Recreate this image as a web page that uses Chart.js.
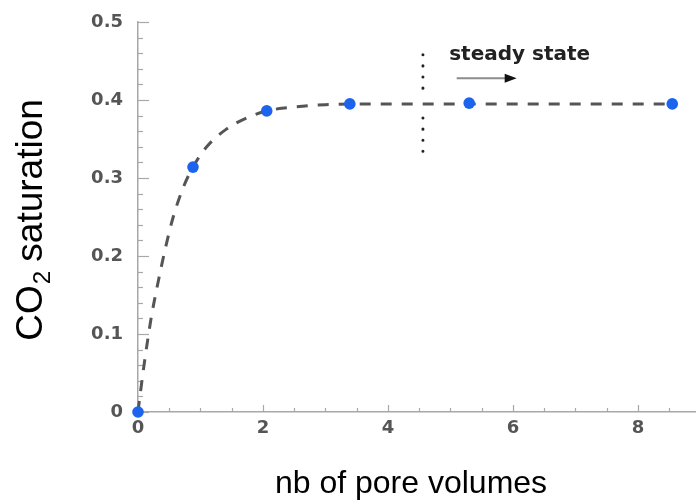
<!DOCTYPE html>
<html>
<head>
<meta charset="utf-8">
<script src="https://cdn.jsdelivr.net/npm/chart.js@4/dist/chart.umd.min.js"></script>
<style>
  html, body { margin: 0; padding: 0; background: #fff; }
  canvas { display: block; }
</style>
</head>
<body>
<canvas id="satChart" width="696" height="501"></canvas>
<script>
// measured CO2 saturation vs injected pore volumes
const poreVolumes = [0, 0.88, 2.06, 3.39, 5.3, 8.55];
const saturation = [0, 0.314, 0.386, 0.395, 0.396, 0.395];

// fitted trend (dashed)
const fitX = [0, 0.05, 0.1, 0.16, 0.22, 0.3, 0.43, 0.56, 0.72, 0.88, 1.1, 1.42, 1.74, 2.06, 2.38, 3.0, 4.0, 5.0, 6.0, 7.0, 8.55];
const fitY = [0, 0.032, 0.062, 0.095, 0.125, 0.158, 0.207, 0.249, 0.287, 0.314, 0.340, 0.363, 0.377, 0.386, 0.390, 0.394, 0.395, 0.395, 0.395, 0.395, 0.395];

// steady state marker and arrow
const steadyX = 4.56;
const steadyY = [0.458, 0.413, null, 0.377, 0.333];
const arrowX = [5.1, 6.06];
const arrowY = 0.428;
const steadyLabel = "steady state";
const steadyLabelPos = [4.98, 0.451];

const xTickLabels = ["0", "2", "4", "6", "8"];
const yTickLabels = ["0", "0.1", "0.2", "0.3", "0.4", "0.5"];

const xMinorStep = 0.5;
const yMinorStep = 0.02;

const tickFont = { family: "DejaVu Sans", size: 18, weight: "bold" };
const axisColor = "#a8a8a8";

// inside tick marks, major and minor
const insideTicks = {
  id: "insideTicks",
  beforeDatasetsDraw(chart) {
    const { ctx, scales: { x, y } } = chart;
    ctx.save();
    ctx.strokeStyle = axisColor;
    ctx.lineWidth = 1.2;
    const x0 = x.left, y0 = y.bottom;
    for (let v = 0; v <= y.max + 1e-9; v += yMinorStep) {
      const py = Math.round(y.getPixelForValue(v)) + 0.5;
      const major = Math.abs(v * 10 - Math.round(v * 10)) < 1e-6;
      ctx.beginPath();
      ctx.moveTo(x0, py);
      ctx.lineTo(x0 + (major ? 11 : 5), py);
      ctx.stroke();
    }
    for (let v = 0; v <= x.max + 1e-9; v += xMinorStep) {
      const px = Math.round(x.getPixelForValue(v)) + 0.5;
      const major = Math.abs(v / 2 - Math.round(v / 2)) < 1e-6;
      ctx.beginPath();
      ctx.moveTo(px, y0);
      ctx.lineTo(px, y0 - (major ? 7 : 4));
      ctx.stroke();
    }
    ctx.restore();
  }
};

// axis titles, arrow and the steady state label
const annotations = {
  id: "annotations",
  afterDatasetsDraw(chart) {
    const { ctx, scales: { x, y } } = chart;
    ctx.save();

    // arrow
    const ax0 = x.getPixelForValue(arrowX[0]);
    const ax1 = x.getPixelForValue(arrowX[1]);
    const ay = y.getPixelForValue(arrowY);
    ctx.strokeStyle = "#8c8c8c";
    ctx.lineWidth = 2;
    ctx.beginPath();
    ctx.moveTo(ax0, ay);
    ctx.lineTo(ax1 - 10, ay);
    ctx.stroke();
    ctx.fillStyle = "#111";
    ctx.beginPath();
    ctx.moveTo(ax1, ay);
    ctx.lineTo(ax1 - 12, ay - 4.5);
    ctx.lineTo(ax1 - 12, ay + 4.5);
    ctx.closePath();
    ctx.fill();

    // label
    ctx.font = "bold 20px 'DejaVu Sans'";
    ctx.fillStyle = "#222";
    ctx.textAlign = "left";
    ctx.textBaseline = "alphabetic";
    ctx.fillText(steadyLabel, x.getPixelForValue(steadyLabelPos[0]), y.getPixelForValue(steadyLabelPos[1]));

    // x title
    ctx.font = "32px 'Liberation Sans', Arial";
    ctx.fillStyle = "#000";
    ctx.textAlign = "center";
    ctx.fillText("nb of pore volumes", 411, 493);

    // y title with subscript
    ctx.translate(42, 220);
    ctx.rotate(-Math.PI / 2);
    ctx.textAlign = "left";
    const big = "37px 'Liberation Sans', Arial";
    const small = "24px 'Liberation Sans', Arial";
    ctx.font = big;
    const wCO = ctx.measureText("CO").width;
    const wRest = ctx.measureText(" saturation").width;
    ctx.font = small;
    const wSub = ctx.measureText("2").width;
    let sx = -(wCO + wSub + wRest) / 2;
    ctx.font = big;
    ctx.fillText("CO", sx, 0);
    sx += wCO;
    ctx.font = small;
    ctx.fillText("2", sx + 1, 8);
    sx += wSub;
    ctx.font = big;
    ctx.fillText(" saturation", sx, 0);

    ctx.restore();
  }
};

new Chart(document.getElementById("satChart"), {
  type: "scatter",
  data: {
    datasets: [
      {
        label: "measured",
        data: poreVolumes.map((v, i) => ({ x: v, y: saturation[i] })),
        pointRadius: 5.8,
        pointBackgroundColor: "#1c64ee",
        pointBorderWidth: 0,
        showLine: false,
        clip: false
      },
      {
        label: "fit",
        type: "line",
        data: fitX.map((v, i) => ({ x: v, y: fitY[i] })),
        borderColor: "#555",
        borderWidth: 3,
        borderDash: [11, 10],
        pointRadius: 0,
        cubicInterpolationMode: "monotone",
        fill: false,
        clip: false
      },
      {
        label: "steady",
        type: "line",
        data: steadyY.map(v => ({ x: steadyX, y: v })),
        borderColor: "#222",
        borderWidth: 3,
        borderDash: [0.1, 11],
        borderCapStyle: "round",
        pointRadius: 0,
        spanGaps: false,
        fill: false
      }
    ]
  },
  options: {
    responsive: false,
    animation: false,
    layout: { autoPadding: false, padding: { top: 22, right: 0, left: 0, bottom: 0 } },
    plugins: {
      legend: { display: false },
      tooltip: { enabled: false }
    },
    scales: {
      x: {
        type: "linear",
        min: 0,
        max: 8.93,
        afterFit(scale) {
          scale.height = 89;
          scale.paddingLeft = 0;
          scale.paddingRight = 0;
        },
        grid: { display: false, drawTicks: false },
        border: { display: true, color: axisColor, width: 1.5 },
        ticks: {
          stepSize: 2,
          includeBounds: false,
          padding: 6,
          color: "#555",
          font: tickFont,
          callback: (v) => xTickLabels[Math.round(v / 2)]
        }
      },
      y: {
        type: "linear",
        min: 0,
        max: 0.5,
        afterFit(scale) {
          scale.width = 138;
          scale.paddingTop = 0;
          scale.paddingBottom = 0;
        },
        grid: { display: false, drawTicks: false },
        border: { display: true, color: axisColor, width: 1.5 },
        ticks: {
          stepSize: 0.1,
          padding: 15,
          color: "#555",
          font: tickFont,
          callback: (v) => yTickLabels[Math.round(v * 10)]
        }
      }
    }
  },
  plugins: [insideTicks, annotations]
});
</script>
</body>
</html>
